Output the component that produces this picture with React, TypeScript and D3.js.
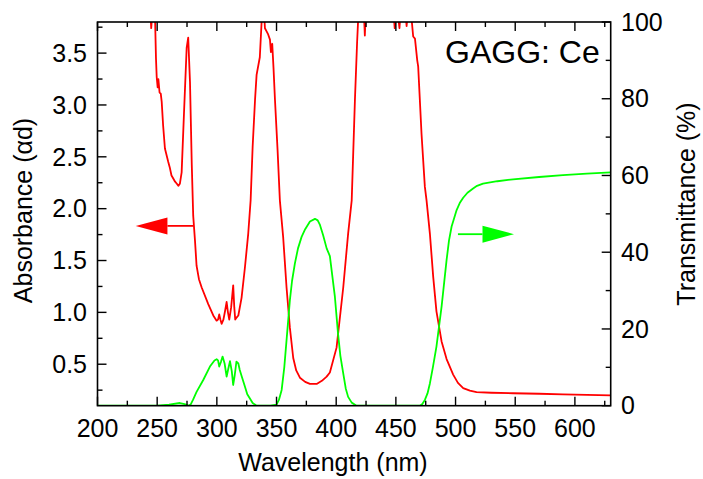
import React from "react";
import * as d3 from "d3";

// ---------- data ----------
const absWavelength = [
  240, 244, 245, 246, 247.5, 248.3, 249, 249.6, 250.4, 251, 252, 253, 253.8, 255, 256.5, 259.3, 260.5, 262, 263, 265,
  266.5, 267.7, 269, 270.5, 272.4, 274.7, 276, 277.5, 279, 280.2, 281.7, 283, 285, 287.3, 292.8, 297, 299.8, 301, 302, 303,
  304, 305.5, 307, 308.2, 309.3, 310.4, 312, 313.7, 314.6, 315.4, 316.5, 318, 320.7, 323.5, 326.3, 328.3, 330, 332,
  333.3, 336, 337.5, 338.2, 339.5, 340.3, 341.7, 343, 344.5, 345.3, 346.4, 347.5, 348.7, 350.9, 352.8, 355.6, 358.4,
  361.2, 364, 366.5, 369.6, 374, 378, 383.6, 388, 392, 394.7, 400.3, 405.9, 410, 413, 415.7, 417.5, 418.5, 420, 423,
  424, 425, 428, 440, 448, 449, 450, 452, 453, 454, 458, 459, 460, 463, 464.5, 466, 467.9, 468.7, 471.5, 474.3, 475.7,
  478.5, 481.3, 484, 488.3, 492.5, 498, 502, 506.4, 512, 517.6, 530, 548.2, 570, 590, 610, 630,
];
const absValue = [
  4.2, 3.95, 3.74, 3.9, 4.0, 3.8, 3.45, 3.27, 3.17, 3.25, 3.12, 3.11, 3.03, 2.8, 2.58, 2.45, 2.4, 2.32, 2.3, 2.26,
  2.24, 2.22, 2.24, 2.35, 2.9, 3.55, 3.65, 3.22, 2.42, 1.93, 1.69, 1.45, 1.32, 1.24, 1.08, 0.97, 0.92, 0.93, 0.98, 0.93,
  0.89, 0.93, 1.02, 1.1, 1.0, 0.93, 1.05, 1.26, 1.05, 0.93, 0.95, 0.97, 1.14, 1.43, 1.76, 2.08, 2.6, 3.05,
  3.29, 3.46, 3.8, 3.9, 3.9, 3.74, 3.71, 3.68, 3.63, 3.51, 3.59, 3.35, 3.05, 2.56, 2.08, 1.72, 1.24,
  0.85, 0.56, 0.44, 0.37, 0.33, 0.31, 0.31, 0.34, 0.38, 0.42, 0.66, 1.24, 1.76, 2.08, 3.05, 3.6, 3.85, 4.0, 3.95,
  3.67, 3.95, 4.0, 4.0, 3.9, 3.74, 3.9, 3.85, 3.74, 3.9, 3.9, 3.76, 3.9, 3.85, 3.66, 3.64, 3.43, 3.37, 2.72, 2.21, 2.08,
  1.76, 1.34, 1.01, 0.72, 0.55, 0.4, 0.32, 0.27, 0.245, 0.23, 0.225, 0.22, 0.215, 0.21, 0.205, 0.2,
];

const transWavelength = [
  200, 250, 260, 269, 273, 276, 278, 280, 283, 288.6, 294.2, 298, 299.8, 301, 302, 303.5, 304.8, 306.5, 308.2, 309.5,
  311, 312.5, 313.7, 315, 316.4, 318, 319.2, 321, 323.5, 325.5, 327.7, 330, 333.3, 345, 350, 352, 354.3, 356.5, 358.4,
  361.2, 363, 365.4, 368, 371, 374, 378, 382.2, 384.5, 386.4, 389, 392, 394.7, 398.9, 401.5, 403.5, 405.9, 408, 410,
  413, 417, 470, 472, 474.3, 476.5, 478.5, 481, 484, 488.3, 492.5, 494.5, 496.7, 500.9, 503.5, 506.4, 510, 514.7, 518,
  523, 535, 548.2, 570, 590, 610, 630,
];
const transValue = [
  0, 0, 0.3, 0.7, 0.4, 0, 0.3, 1.5, 3.6, 6.7, 10.2, 11.8, 12.1, 11.8, 10.2, 11.5, 12.8, 11, 7.6, 9.5,
  11.6, 9, 5.4, 8, 11.5, 11, 9.3, 7.5, 5, 3, 1.9, 0.7, 0, 0, 0.3, 1.5, 4.1, 10, 17.1,
  27.5, 32.5, 37.1, 41, 44, 46, 48, 48.7, 48.3, 47.1, 44.5, 41, 39, 28.4, 18.9, 13, 8.4, 4.5, 2.3,
  0.8, 0, 0, 0.4, 1.5, 3.2, 5.8, 10, 15.4, 25.8, 38, 43, 46.7, 51, 52.8, 54.2, 55.5, 56.6, 57.3,
  57.9, 58.5, 59, 59.6, 60.1, 60.5, 60.8,
];

const xTicks = [200, 250, 300, 350, 400, 450, 500, 550, 600];
const xMinorTicks = [225, 275, 325, 375, 425, 475, 525, 575, 625];
const leftTicks = [0.5, 1.0, 1.5, 2.0, 2.5, 3.0, 3.5];
const leftMinorTicks = [0.25, 0.75, 1.25, 1.75, 2.25, 2.75, 3.25, 3.75];
const rightTicks = [0, 20, 40, 60, 80, 100];
const rightMinorTicks = [10, 30, 50, 70, 90];

// arrow annotations (data coordinates)
const absArrow = { from: 280.5, to: 232, head: 258.6, value: 1.834 };
const transArrow = { from: 502, to: 549, head: 522.6, value: 44.7 };

const FONT = "'Liberation Sans', Arial, Helvetica, sans-serif";
const RED = "#ff0000";
const GREEN = "#00ff00";

export default function App() {
  const W = 703;
  const H = 479;
  const L = 97.5;
  const R = 610.7;
  const T = 22;
  const B = 405.7;

  const x = d3.scaleLinear().domain([200, 630]).range([L, R]);
  const yL = d3.scaleLinear().domain([0.1, 3.8]).range([B, T]);
  const yR = d3.scaleLinear().domain([0, 100]).range([B, T]);

  const absLine = d3
    .line<number>()
    .x((_, i) => x(absWavelength[i]))
    .y((d) => yL(d));
  const transLine = d3
    .line<number>()
    .x((_, i) => x(transWavelength[i]))
    .y((d) => yR(d));

  const major = 9;
  const minor = 5;
  const fs = 25;

  const ay = yL(absArrow.value);
  const ty = yR(transArrow.value);
  const headHalf = 8.5;

  return (
    <svg
      width={W}
      height={H}
      style={{ position: "absolute", left: 0, top: 0, background: "#fff" }}
      fontFamily={FONT}
    >
      <defs>
        <clipPath id="plotClip">
          <rect x={L} y={T} width={R - L} height={B - T} />
        </clipPath>
      </defs>
      <rect x={0} y={0} width={W} height={H} fill="#fff" />

      <g clipPath="url(#plotClip)" fill="none" strokeWidth={1.8} strokeLinejoin="round">
        <path d={absLine(absValue) || ""} stroke={RED} />
        <path d={transLine(transValue) || ""} stroke={GREEN} />
      </g>

      {/* arrows */}
      <line x1={x(absArrow.from)} x2={x(absArrow.head)} y1={ay} y2={ay} stroke={RED} strokeWidth={1.8} />
      <polygon
        points={`${x(absArrow.to)},${ay} ${x(absArrow.head)},${ay - headHalf} ${x(absArrow.head)},${ay + headHalf}`}
        fill={RED}
      />
      <line x1={x(transArrow.from)} x2={x(transArrow.head)} y1={ty} y2={ty} stroke={GREEN} strokeWidth={1.8} />
      <polygon
        points={`${x(transArrow.to)},${ty} ${x(transArrow.head)},${ty - headHalf} ${x(transArrow.head)},${ty + headHalf}`}
        fill={GREEN}
      />

      {/* frame */}
      <rect x={L} y={T} width={R - L} height={B - T} fill="none" stroke="#000" strokeWidth={1.6} />

      {/* ticks */}
      <g stroke="#000" strokeWidth={1.4}>
        {xTicks.map((t) => (
          <g key={"xt" + t}>
            <line x1={x(t)} x2={x(t)} y1={B} y2={B - major} />
            <line x1={x(t)} x2={x(t)} y1={T} y2={T + major} />
          </g>
        ))}
        {xMinorTicks.map((t) => (
          <g key={"xm" + t}>
            <line x1={x(t)} x2={x(t)} y1={B} y2={B - minor} />
            <line x1={x(t)} x2={x(t)} y1={T} y2={T + minor} />
          </g>
        ))}
        {leftTicks.map((t) => (
          <line key={"lt" + t} x1={L} x2={L + major} y1={yL(t)} y2={yL(t)} />
        ))}
        {leftMinorTicks.map((t) => (
          <line key={"lm" + t} x1={L} x2={L + minor} y1={yL(t)} y2={yL(t)} />
        ))}
        {rightTicks.map((t) => (
          <line key={"rt" + t} x1={R} x2={R - major} y1={yR(t)} y2={yR(t)} />
        ))}
        {rightMinorTicks.map((t) => (
          <line key={"rm" + t} x1={R} x2={R - minor} y1={yR(t)} y2={yR(t)} />
        ))}
      </g>

      {/* tick labels */}
      <g fontSize={fs} fill="#000">
        {xTicks.map((t) => (
          <text key={"xl" + t} x={x(t)} y={437} textAnchor="middle">
            {t}
          </text>
        ))}
        {leftTicks.map((t) => (
          <text key={"ll" + t} x={87} y={yL(t)} dy="0.35em" textAnchor="end">
            {t.toFixed(1)}
          </text>
        ))}
        {rightTicks.map((t) => (
          <text key={"rl" + t} x={621} y={yR(t)} dy="0.35em" textAnchor="start">
            {t}
          </text>
        ))}
      </g>

      {/* axis titles */}
      <text x={333} y={471} fontSize={fs} textAnchor="middle" fill="#000">
        Wavelength (nm)
      </text>
      <text transform={`translate(32,210.5) rotate(-90)`} fontSize={fs} textAnchor="middle" fill="#000">
        Absorbance (αd)
      </text>
      <text transform={`translate(695,204) rotate(-90)`} fontSize={fs} textAnchor="middle" fill="#000">
        Transmittance (%)
      </text>

      <text x={445} y={63} fontSize={32} fill="#000">
        GAGG: Ce
      </text>
    </svg>
  );
}
